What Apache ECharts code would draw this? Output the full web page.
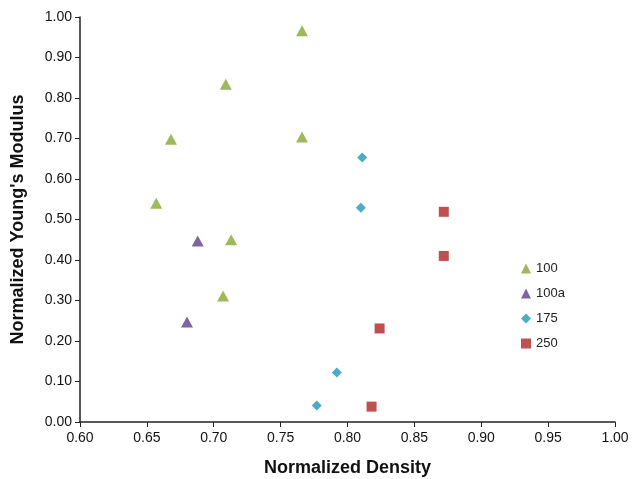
<!DOCTYPE html>
<html>
<head>
<meta charset="utf-8">
<script src="https://cdn.jsdelivr.net/npm/echarts@6/dist/echarts.min.js"></script>
<style>
  html, body { margin: 0; padding: 0; background: #fff; }
  #chart { width: 633px; height: 479px; }
</style>
</head>
<body>
<div id="chart"></div>
<script>
// series names as shown in the legend
const seriesNames = ['100', '100a', '175', '250']

// [normalized density, normalized Young's modulus]
const points100 = [
  [0.766, 0.966], [0.709, 0.834], [0.668, 0.698], [0.766, 0.704],
  [0.657, 0.540], [0.713, 0.450], [0.707, 0.311]
]
const points100a = [[0.688, 0.447], [0.680, 0.247]]
const points175 = [[0.811, 0.653], [0.810, 0.529], [0.792, 0.122], [0.777, 0.041]]
const points250 = [[0.872, 0.519], [0.872, 0.410], [0.824, 0.231], [0.818, 0.038]]

const COLORS = ['#9bbb59', '#8064a2', '#4bacc6', '#c0504d']
const SYMBOLS = ['triangle', 'triangle', 'diamond', 'rect']
const SIZES = [[12, 11], [12, 11], [10, 10], [10, 10]]
const allPoints = [points100, points100a, points175, points250]

const chart = echarts.init(document.getElementById('chart'))
const axisText = { color: '#111', fontSize: 14, fontFamily: 'Liberation Sans' }
const titleText = { color: '#111', fontWeight: 'bold', fontFamily: 'Liberation Sans' }

chart.setOption({
  animation: false,
  grid: { left: 80, right: 18, top: 17, bottom: 57, outerBoundsMode: 'none' },
  legend: {
    orient: 'vertical',
    left: 516, top: 257,
    itemWidth: 10, itemHeight: 10, itemGap: 12,
    textStyle: { color: '#222', fontSize: 13, fontFamily: 'Liberation Sans' },
    data: seriesNames
  },
  xAxis: {
    type: 'value', min: 0.6, max: 1.0, interval: 0.05,
    name: 'Normalized Density', nameLocation: 'middle', nameGap: 37,
    nameTextStyle: Object.assign({ fontSize: 18 }, titleText),
    axisLine: { lineStyle: { color: '#222', width: 1.5 } },
    axisTick: { show: true, length: 5, lineStyle: { color: '#222' } },
    axisLabel: Object.assign({ margin: 9, formatter: v => v.toFixed(2) }, axisText),
    splitLine: { show: false }
  },
  yAxis: {
    type: 'value', min: 0, max: 1.0, interval: 0.1,
    name: "Normalized Young's Modulus", nameLocation: 'middle', nameGap: 53,
    nameTextStyle: Object.assign({ fontSize: 18 }, titleText),
    axisLine: { show: true, lineStyle: { color: '#222', width: 1.5 } },
    axisTick: { show: true, length: 5, lineStyle: { color: '#222' } },
    axisLabel: Object.assign({ margin: 8, formatter: v => v.toFixed(2) }, axisText),
    splitLine: { show: false }
  },
  series: seriesNames.map((name, i) => ({
    name,
    type: 'scatter',
    symbol: SYMBOLS[i],
    symbolSize: SIZES[i],
    itemStyle: { color: COLORS[i], opacity: 1 },
    data: allPoints[i]
  }))
})
</script>
</body>
</html>
